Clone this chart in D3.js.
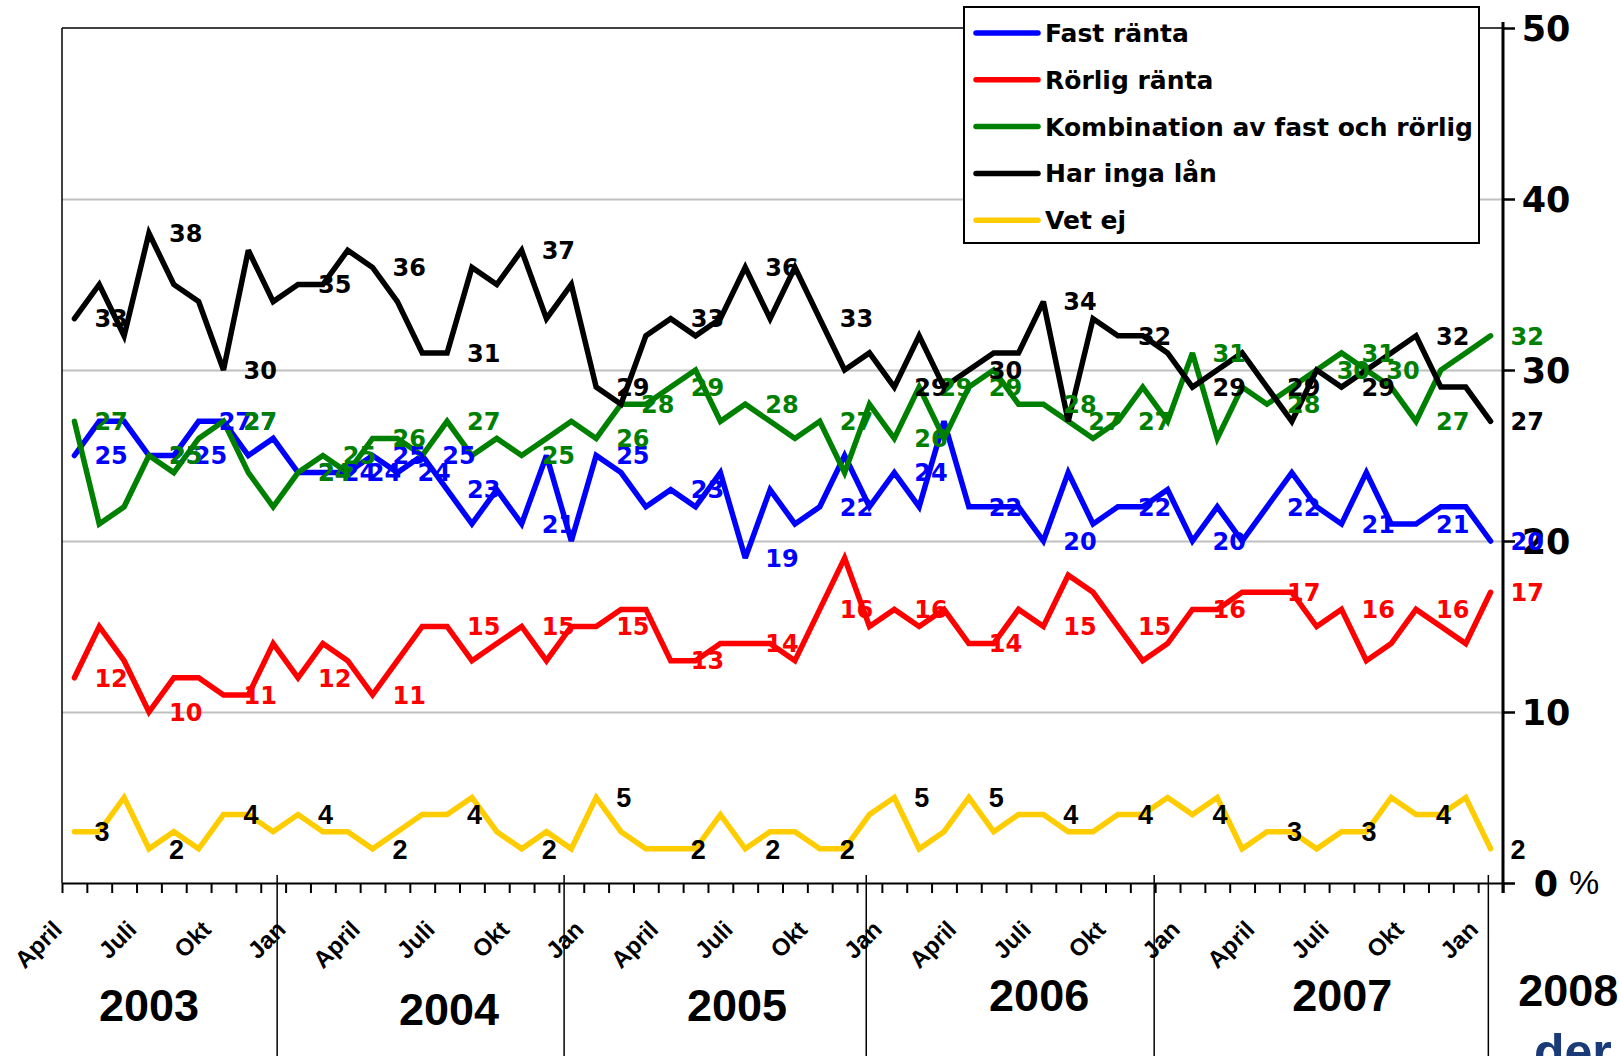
<!DOCTYPE html>
<html>
<head>
    <meta charset="utf-8">
    <title>Fast och rörlig ränta</title>
    <script src="https://d3js.org/d3.v7.min.js"></script>
    <style>
        body { margin: 0; padding: 0; background: #fff; }
        .grid line { stroke: #c0c0c0; stroke-width: 1.8; }
        .grid path { stroke-width: 0; }
        .xaxis path, .xaxis line { stroke: #000; stroke-width: 2; }
        .raxis path { stroke: #000; stroke-width: 3; }
        .raxis line { stroke: #000; stroke-width: 2.5; }
    </style>
</head>
<body>
<svg id="svg" width="1620" height="1056"></svg>
<script>
    // Monthly series, April 2003 - Jan 2008
    const months = d3.timeMonth.range(new Date(2003, 3, 1), new Date(2008, 1, 1));

    const fastRanta = [25, 27, 27, 25, 25, 27, 27, 25, 26, 24, 24, 24, 25, 24, 25, 23, 21, 23, 21, 25,
        20, 25, 24, 22, 23, 22, 24, 19, 23, 21, 22, 25, 22, 24, 22, 27, 22, 22, 22,
        20, 24, 21, 22, 22, 23, 20, 22, 20, 22, 24, 22, 21, 24, 21, 21, 22, 22, 20];
    const rorligRanta = [12, 15, 13, 10, 12, 12, 11, 11, 14, 12, 14, 13, 11, 13, 15, 15, 13, 14, 15, 13,
        15, 15, 16, 16, 13, 13, 14, 14, 14, 13, 16, 19, 15, 16, 15, 16, 14, 14, 16,
        15, 18, 17, 15, 13, 14, 16, 16, 17, 17, 17, 15, 16, 13, 14, 16, 15, 14, 17];
    const kombination = [27, 21, 22, 25, 24, 26, 27, 24, 22, 24, 25, 24, 26, 26, 25, 27, 25, 26, 25, 26,
        27, 26, 28, 28, 29, 30, 27, 28, 27, 26, 27, 24, 28, 26, 29, 26, 29, 30, 28,
        28, 27, 26, 27, 29, 27, 31, 26, 29, 28, 29, 30, 31, 30, 29, 27, 30, 31, 32];
    const ingaLan = [33, 35, 32, 38, 35, 34, 30, 37, 34, 35, 35, 37, 36, 34, 31, 31, 36, 35, 37, 33,
        35, 29, 28, 32, 33, 32, 33, 36, 33, 36, 33, 30, 31, 29, 32, 29, 30, 31, 31,
        34, 27, 33, 32, 32, 31, 29, 30, 31, 29, 27, 30, 29, 30, 31, 32, 29, 29, 27];
    const vetEj = [3, 3, 5, 2, 3, 2, 4, 4, 3, 4, 3, 3, 2, 3, 4, 4, 5, 3, 2, 3,
        2, 5, 3, 2, 2, 2, 4, 2, 3, 3, 2, 2, 4, 5, 2, 3, 5, 3, 4,
        4, 3, 3, 4, 4, 5, 4, 5, 2, 3, 3, 2, 3, 3, 5, 4, 4, 5, 2];

    // Which points carry a value label (every third month plus a few extra)
    const everyThird = d3.range(0, 58, 3);
    const fastExtra = [4, 5, 10, 11, 13, 14];
    const kombExtra = [10, 22, 34, 40, 50, 52];

    const monthTicks = ["April", "Juli", "Okt", "Jan"];
    const yTicks = [0, 10, 20, 30, 40, 50];
    const yearNames = ["2003", "2004", "2005", "2006", "2007", "2008"];
    const yearAt = [3.5, 15.58, 27.17, 39.33, 51.53, 60.63];       // in months from April 2003
    const separatorsAt = [8.66, 20.21, 32.37, 43.96, 57.41];

    const series = [
        { name: "Fast ränta", values: fastRanta, color: "#0000ff", labelColor: "#0000ff", labels: everyThird.concat(fastExtra) },
        { name: "Rörlig ränta", values: rorligRanta, color: "#ff0000", labelColor: "#ff0000", labels: everyThird },
        { name: "Kombination av fast och rörlig", values: kombination, color: "#008000", labelColor: "#008000", labels: everyThird.concat(kombExtra) },
        { name: "Har inga lån", values: ingaLan, color: "#000000", labelColor: "#000000", labels: everyThird },
        { name: "Vet ej", values: vetEj, color: "#ffcc00", labelColor: "#000000", labels: everyThird, small: true }
    ];

    const svg = d3.select("svg");
    const W = 1620, H = 1056;
    const margin = { left: 62, right: 117, top: 28, bottom: 173 };
    const right = W - margin.right, bottom = H - margin.bottom;

    const x = d3.scaleLinear().domain([0, months.length]).range([margin.left, right]);
    const cx = i => x(i + 0.5);
    const y = d3.scaleLinear().domain([0, 50]).range([bottom, margin.top]);

    // Gridlines
    svg.append("g")
        .attr("class", "grid")
        .attr("transform", `translate(${margin.left},0)`)
        .call(d3.axisLeft(y).tickValues([10, 20, 30, 40]).tickSize(-(right - margin.left)).tickFormat(""));

    // Frame: top and left edges
    svg.append("line")
        .attr("x1", margin.left).attr("x2", right)
        .attr("y1", y(50)).attr("y2", y(50))
        .attr("stroke", "#000").attr("stroke-width", 1.5);
    svg.append("line")
        .attr("x1", margin.left).attr("x2", margin.left)
        .attr("y1", y(50)).attr("y2", bottom)
        .attr("stroke", "#000").attr("stroke-width", 1.5);

    // X axis with a tick at every month boundary
    svg.append("g")
        .attr("class", "xaxis")
        .attr("transform", `translate(0,${bottom})`)
        .call(d3.axisBottom(x).tickValues(d3.range(0, months.length + 1)).tickSize(10).tickSizeOuter(0).tickFormat(""));

    // Month names every third month
    svg.append("g").selectAll("text")
        .data(everyThird)
        .join("text")
        .attr("transform", i => `translate(${cx(i) - 11},${bottom + 48}) rotate(-45)`)
        .attr("text-anchor", "end")
        .attr("font-family", "'Liberation Sans', Arial, sans-serif")
        .attr("font-weight", "bold")
        .attr("font-size", 24)
        .text((d, k) => monthTicks[k % 4]);

    // Year separators and year names
    svg.append("g").selectAll("line")
        .data(separatorsAt)
        .join("line")
        .attr("x1", d => x(d)).attr("x2", d => x(d))
        .attr("y1", bottom - 8).attr("y2", H)
        .attr("stroke", "#000").attr("stroke-width", 1.5);

    const yearBase = [1021, 1025, 1021, 1011, 1011, 1006];
    svg.append("g").selectAll("text")
        .data(yearNames)
        .join("text")
        .attr("x", (d, k) => x(yearAt[k]))
        .attr("y", (d, k) => yearBase[k])
        .attr("text-anchor", "middle")
        .attr("font-family", "'Liberation Sans', Arial, sans-serif")
        .attr("font-weight", "bold")
        .attr("font-size", 45)
        .text(d => d);

    // Right value axis
    const raxis = svg.append("g")
        .attr("class", "raxis")
        .attr("transform", `translate(${right},0)`)
        .call(d3.axisRight(y).tickValues(yTicks).tickSize(12).tickSizeOuter(0).tickFormat(""));
    raxis.select(".domain").attr("d", `M0,${y(50) - 6}V${bottom + 10}`);

    svg.append("g").selectAll("text")
        .data(yTicks)
        .join("text")
        .attr("x", right + 43)
        .attr("y", d => y(d) + 13)
        .attr("text-anchor", "middle")
        .attr("font-family", "'DejaVu Sans', sans-serif")
        .attr("font-weight", "bold")
        .attr("font-size", 35)
        .text(d => d);
    svg.append("text")
        .attr("x", right + 66)
        .attr("y", y(0) + 11)
        .attr("font-family", "'Liberation Sans', Arial, sans-serif")
        .attr("font-size", 34)
        .text("%");

    // Lines
    const line = d3.line().x((d, i) => cx(i)).y(d => y(d));
    svg.append("g").selectAll("path")
        .data(series)
        .join("path")
        .attr("fill", "none")
        .attr("stroke", s => s.color)
        .attr("stroke-width", 5.5)
        .attr("stroke-linejoin", "miter")
        .attr("stroke-miterlimit", 3)
        .attr("stroke-linecap", "round")
        .attr("d", s => line(s.values));

    // Value labels
    series.forEach(s => {
        svg.append("g").selectAll("text")
            .data(s.labels)
            .join("text")
            .attr("x", i => cx(i) + 20)
            .attr("y", i => y(s.values[i]) + (s.small ? 9.7 : 8.7))
            .attr("fill", s.labelColor)
            .attr("font-family", s.small ? "'Liberation Sans', Arial, sans-serif" : "'DejaVu Sans', sans-serif")
            .attr("font-weight", "bold")
            .attr("font-size", s.small ? 27 : 24)
            .text(i => s.values[i]);
    });

    // Legend
    const legend = svg.append("g");
    legend.append("rect")
        .attr("x", 964).attr("y", 7)
        .attr("width", 515).attr("height", 236)
        .attr("fill", "#fff").attr("stroke", "#000").attr("stroke-width", 2);
    const row = legend.selectAll("g.row")
        .data(series)
        .join("g")
        .attr("class", "row")
        .attr("transform", (s, k) => `translate(976,${33 + k * 46.8})`);
    row.append("line")
        .attr("x1", 0).attr("x2", 62)
        .attr("stroke", s => s.color).attr("stroke-width", 5.5)
        .attr("stroke-linecap", "round");
    row.append("text")
        .attr("x", 69).attr("y", 9)
        .attr("font-family", "'DejaVu Sans', sans-serif")
        .attr("font-weight", "bold")
        .attr("font-size", 25)
        .text(s => s.name);

    // Cut-off text at the bottom right edge of the slide
    svg.append("text")
        .attr("x", 1534).attr("y", 1069)
        .attr("fill", "#1a3a78")
        .attr("font-family", "'Liberation Sans', Arial, sans-serif")
        .attr("font-weight", "bold")
        .attr("font-size", 50)
        .text("der");
</script>
</body>
</html>
